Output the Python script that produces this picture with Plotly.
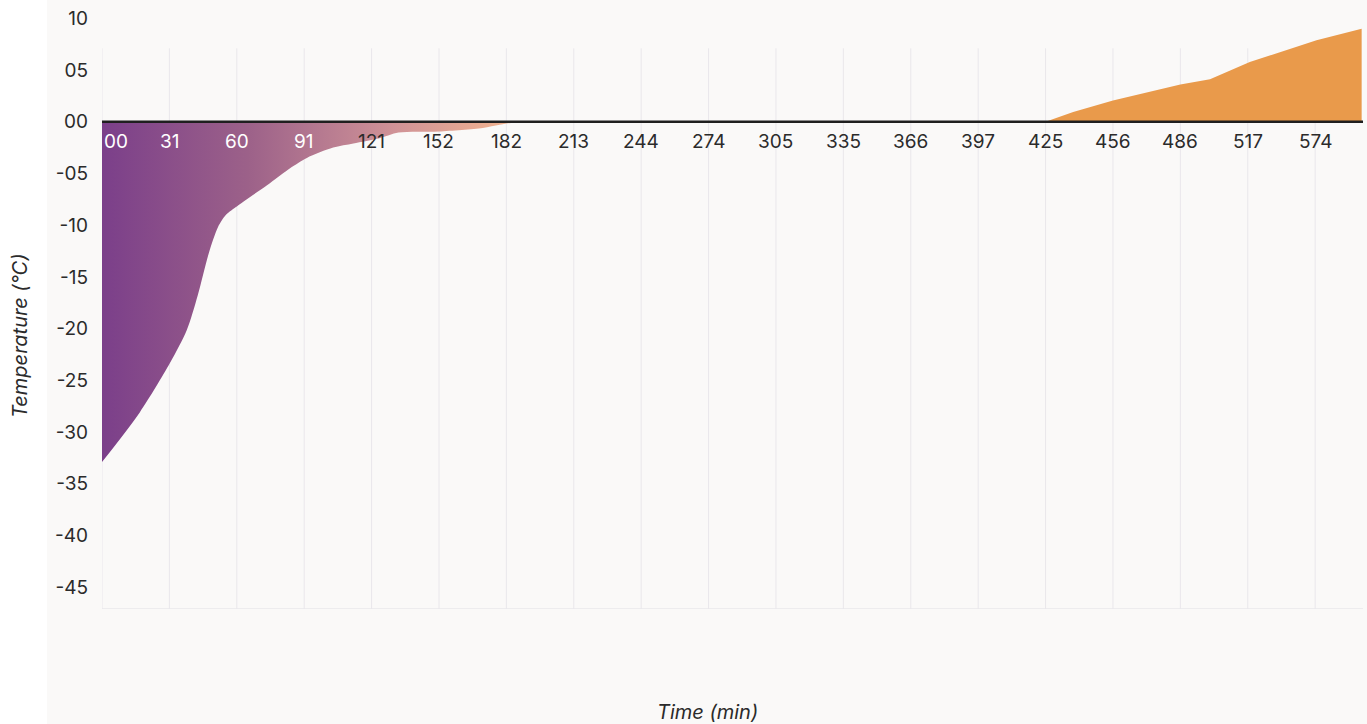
import plotly.graph_objects as go

# tick labels along the time axis (evenly spaced, one per slot)
time_ticks = ['00', '31', '60', '91', '121', '152', '182', '213', '244', '274',
              '305', '335', '366', '397', '425', '456', '486', '517', '574']
temp_ticks = [10, 5, 0, -5, -10, -15, -20, -25, -30, -35, -40, -45]

# cold phase, x in tick-slot units
cold_x = [0, 0.56, 1.01, 1.26, 1.42, 1.58, 1.72, 1.84, 2.0, 2.15, 2.5, 2.79,
          3.04, 3.43, 3.73, 4.12, 4.4, 5.0, 5.65, 5.9, 6.17]
cold_y = [-32.9, -28.1, -23.3, -20.1, -16.8, -12.8, -10.2, -9.0, -8.2, -7.5,
          -5.9, -4.5, -3.5, -2.5, -2.1, -1.6, -1.05, -0.94, -0.6, -0.3, 0]

# warm phase
warm_x = [14.0, 14.41, 15.0, 16.0, 16.44, 17.03, 18.02, 18.69]
warm_y = [0, 0.95, 2.05, 3.6, 4.1, 5.78, 7.87, 9.0]

FONT = 'Inter'
INK = '#2b2b2b'
PANEL = '#faf9f8'
GRID = '#e9e7eb'

X_MAX = 18.71
Y_MIN, Y_MAX = -47.1, 10.9
GRID_TOP = 7.1

fig = go.Figure()

fig.add_trace(go.Scatter(
    x=cold_x, y=cold_y, mode='lines', fill='tozeroy',
    line=dict(width=0, shape='spline', smoothing=0.8),
    fillgradient=dict(type='horizontal',
                      colorscale=[[0, '#7b3f8a'], [0.35, '#9c6189'],
                                  [0.7, '#cf9297'], [1, '#f3b58f']]),
    hoverinfo='skip', showlegend=False))

fig.add_trace(go.Scatter(
    x=warm_x, y=warm_y, mode='lines', fill='tozeroy',
    line=dict(width=0, color='#e99a4b'), fillcolor='#e99a4b',
    hoverinfo='skip', showlegend=False))

# zero line
fig.add_trace(go.Scatter(
    x=[0, X_MAX], y=[0, 0], mode='lines',
    line=dict(color='#1f1f1f', width=2.5),
    hoverinfo='skip', showlegend=False))

shapes = [dict(type='rect', xref='paper', yref='paper', x0=-0.0437, x1=1.01,
               y0=-0.2, y1=1.02, fillcolor=PANEL, line_width=0, layer='below')]
for i in range(len(time_ticks)):
    shapes.append(dict(type='line', xref='x', yref='y', x0=i, x1=i,
                       y0=Y_MIN, y1=GRID_TOP, line=dict(color=GRID, width=1),
                       layer='below'))
shapes.append(dict(type='line', xref='x', yref='y', x0=0, x1=X_MAX,
                   y0=Y_MIN, y1=Y_MIN, line=dict(color=GRID, width=1.5),
                   layer='below'))

# x tick labels sit just under the zero line; white over the dark fill
annotations = []
for i, lab in enumerate(time_ticks):
    annotations.append(dict(
        text=lab, x=i, y=0, xref='x', yref='y', showarrow=False,
        xanchor='left' if i == 0 else 'center', yanchor='middle',
        yshift=-20, font=dict(family=FONT, size=19,
                              color='white' if i < 4 else INK)))

annotations += [
    dict(text='<i>Time (min)</i>', xref='paper', yref='paper',
         x=0.4805, y=-0.171, yanchor='middle', showarrow=False,
         font=dict(family=FONT, size=20, color=INK)),
    dict(text='<i>Temperature (\u00b0C)</i>', xref='paper', yref='paper',
         x=-0.065, y=0.455, textangle=-90, showarrow=False,
         xanchor='center', yanchor='middle',
         font=dict(family=FONT, size=20, color=INK)),
]

fig.update_layout(
    width=1367, height=724,
    margin=dict(l=102, r=4, t=9, b=115, autoexpand=False),
    paper_bgcolor='white', plot_bgcolor=PANEL,
    font=dict(family=FONT, color=INK),
    shapes=shapes,
    annotations=annotations,
    xaxis=dict(range=[0, X_MAX], showgrid=False, zeroline=False,
               showticklabels=False, showline=False, fixedrange=True,
               automargin=False),
    yaxis=dict(range=[Y_MIN, Y_MAX], showgrid=False, zeroline=False,
               tickvals=temp_ticks,
               ticktext=['%02d' % v if v >= 0 else '-%02d' % -v
                         for v in temp_ticks],
               tickfont=dict(family=FONT, size=19, color=INK),
               ticks='', ticklabelstandoff=13, showline=False,
               automargin=False),
)

# drop the page's default 8px body margin so the figure fills the window
fig.write_html('out.html', config={'displayModeBar': False},
               post_script="document.body.style.margin='0';")
